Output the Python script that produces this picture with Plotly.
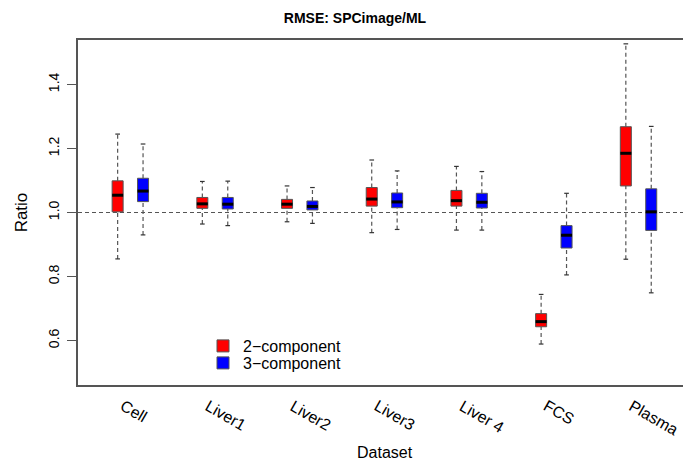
import plotly.graph_objects as go

# ---- data ----
datasets = ["Cell", "Liver1", "Liver2", "Liver3", "Liver 4", "FCS", "Plasma"]
y_ticks = [0.6, 0.8, 1.0, 1.2, 1.4]

# 2-component
c2_low = [0.855, 0.964, 0.971, 0.937, 0.945, 0.589, 0.854]
c2_q1 = [1.002, 1.013, 1.013, 1.020, 1.020, 0.643, 1.083]
c2_med = [1.054, 1.027, 1.026, 1.042, 1.037, 0.659, 1.185]
c2_q3 = [1.099, 1.047, 1.041, 1.078, 1.069, 0.684, 1.268]
c2_high = [1.245, 1.097, 1.083, 1.164, 1.144, 0.744, 1.527]

# 3-component
c3_low = [0.930, 0.959, 0.966, 0.947, 0.945, 0.805, 0.749]
c3_q1 = [1.034, 1.011, 1.008, 1.015, 1.014, 0.889, 0.944]
c3_med = [1.067, 1.026, 1.019, 1.033, 1.032, 0.929, 1.002]
c3_q3 = [1.107, 1.047, 1.036, 1.061, 1.060, 0.959, 1.074]
c3_high = [1.214, 1.098, 1.078, 1.130, 1.128, 1.060, 1.269]

series = [
    ("2\u2212component", "#FF0000", -0.15, "legend", c2_low, c2_q1, c2_med, c2_q3, c2_high),
    ("3\u2212component", "#0000FF", 0.15, "legend2", c3_low, c3_q1, c3_med, c3_q3, c3_high),
]

BOX_W = 0.13
CAP_W = 0.055
EDGE = "#555555"
FONT = "Liberation Sans, Arial, sans-serif"

fig = go.Figure()
groups = list(range(1, len(datasets) + 1))

for name, color, off, leg, low, q1, med, q3, high in series:
    xs = [g + off for g in groups]
    # whiskers (dashed)
    wx, wy = [], []
    for x, lo, a, b, hi in zip(xs, low, q1, q3, high):
        wx += [x, x, None, x, x, None]
        wy += [b, hi, None, lo, a, None]
    fig.add_trace(go.Scatter(x=wx, y=wy, mode="lines", showlegend=False, hoverinfo="skip",
                             line=dict(color=EDGE, width=1.2, dash="4px,3px")))
    # caps
    cx, cy = [], []
    for x, lo, hi in zip(xs, low, high):
        cx += [x - CAP_W / 2, x + CAP_W / 2, None, x - CAP_W / 2, x + CAP_W / 2, None]
        cy += [hi, hi, None, lo, lo, None]
    fig.add_trace(go.Scatter(x=cx, y=cy, mode="lines", showlegend=False, hoverinfo="skip",
                             line=dict(color="#333333", width=1.2)))
    # boxes
    fig.add_trace(go.Bar(x=xs, base=q1, y=[b - a for a, b in zip(q1, q3)], width=BOX_W,
                         name=name, legend=leg,
                         marker=dict(color=color, line=dict(color=EDGE, width=1))))
    # medians
    mx, my = [], []
    for x, m in zip(xs, med):
        mx += [x - BOX_W / 2, x + BOX_W / 2, None]
        my += [m, m, None]
    fig.add_trace(go.Scatter(x=mx, y=my, mode="lines", showlegend=False, hoverinfo="skip",
                             line=dict(color="black", width=3)))

# reference line at 1.0
fig.add_shape(type="line", xref="paper", x0=0, x1=1, yref="y", y0=1.0, y1=1.0,
              line=dict(color=EDGE, width=1.2, dash="4px,3px"), layer="below")

# category labels (slanted)
for g, lab in zip(groups, datasets):
    fig.add_annotation(x=g - 0.18, xref="x", y=-9 / 345, yref="paper", text=lab,
                       showarrow=False, textangle=30, xanchor="left", yanchor="top",
                       font=dict(family=FONT, size=16, color="black"))

fig.add_annotation(x=(385 - 78) / 605, xref="paper", y=-67 / 345, yref="paper",
                   text="Dataset", showarrow=False, xanchor="center", yanchor="middle",
                   font=dict(family=FONT, size=16, color="black"))

leg_common = dict(x=(203 - 78) / 605, xanchor="left", yanchor="top",
                  bgcolor="rgba(0,0,0,0)", font=dict(family=FONT, size=16, color="black"))

fig.update_layout(
    width=683, height=461,
    margin=dict(l=78, r=0, t=40, b=76),
    paper_bgcolor="white", plot_bgcolor="white",
    barmode="overlay",
    title=dict(text="<b>RMSE: SPCimage/ML</b>", x=355 / 683, xanchor="center", xref="container",
               y=1 - 18 / 461, yanchor="middle", yref="container",
               font=dict(family=FONT, size=14, color="black")),
    xaxis=dict(range=[0.382, 7.525], showgrid=False, zeroline=False, showticklabels=False,
               ticks="", showline=True, linecolor=EDGE, linewidth=1.5, mirror=True),
    yaxis=dict(range=[0.461, 1.539], tickvals=y_ticks, ticktext=[f"{v:.1f}" for v in y_ticks],
               tickangle=-90, showgrid=False, zeroline=False, showline=True, linecolor=EDGE,
               linewidth=1.5, ticks="outside", ticklen=9, tickcolor=EDGE, tickwidth=1.2,
               ticklabelstandoff=3,
               tickfont=dict(family=FONT, size=14, color="black"),
               title=dict(text="Ratio", font=dict(family=FONT, size=17, color="black"), standoff=14)),
    legend=dict(y=(385 - 329) / 345, **leg_common),
    legend2=dict(y=(385 - 346) / 345, **leg_common),
    showlegend=True,
)

fig.write_html("out.html")
